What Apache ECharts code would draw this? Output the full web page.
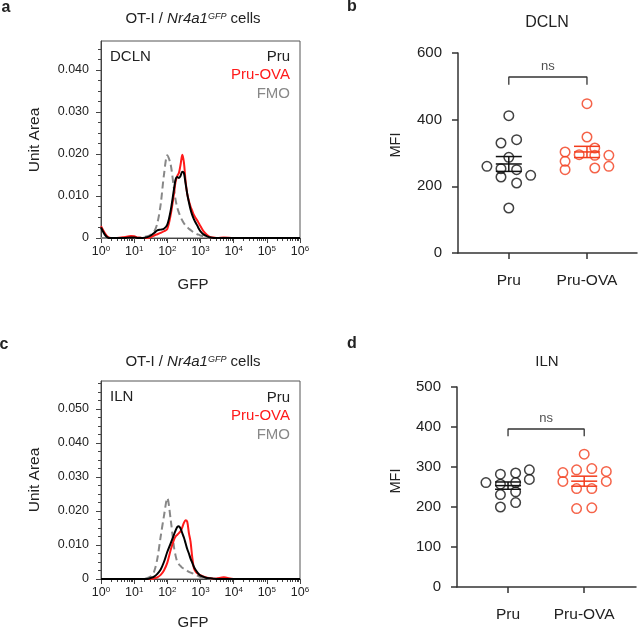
<!DOCTYPE html>
<html><head><meta charset="utf-8">
<script src="https://cdn.jsdelivr.net/npm/echarts@6/dist/echarts.min.js"></script>
<style>html,body{margin:0;padding:0;background:#fff}#c{width:638px;height:630px}</style>
</head><body><div id="c"></div>
<script>
// ---------- DATA ----------
const gfp = [1,1.3,1.6,2,3,5,8,10,13,18,25,32,40,50,63,79,100,126,158,178,200,224,251,282,316,355,398,447,501,562,631,708,794,891,1000,1259,1585,2000,2512,3162,5012,10000,100000,1000000];

const dclnFmo = [0,0,0,0,0,0,0,0,0,0.0002,0.0004,0.0008,0.0015,0.0035,0.008,0.015,0.0197,0.0175,0.0118,0.009,0.0072,0.006,0.005,0.0042,0.0035,0.003,0.0026,0.0022,0.0019,0.0016,0.0013,0.0011,0.0009,0.0008,0.0006,0.0004,0.0002,0.0001,0,0,0,0,0,0];
const dclnOva = [0.0028,0.0012,0.0003,0,0,0.0002,0.0005,0.0004,0.0001,0,0,0.0002,0.0006,0.0009,0.0012,0.0016,0.0022,0.0055,0.0105,0.0135,0.0148,0.0155,0.0175,0.0198,0.018,0.0135,0.0105,0.0088,0.0075,0.0065,0.0055,0.0048,0.0042,0.0035,0.0028,0.0015,0.0007,0.0002,0.0001,0,0.0001,0,0,0];
const dclnPru = [0.0025,0.0008,0.0001,0,0,0,0.0001,0.0001,0,0,0.0002,0.0006,0.0012,0.0018,0.002,0.0022,0.0032,0.0065,0.0115,0.014,0.0145,0.0143,0.0148,0.0158,0.0155,0.013,0.0105,0.0085,0.0068,0.0055,0.0045,0.0037,0.003,0.0022,0.0016,0.0008,0.0004,0.0001,0,0,0,0,0,0];

const ilnFmo = [0,0,0,0,0,0,0,0,0,0,0.0003,0.0008,0.0022,0.006,0.0125,0.0185,0.0238,0.0175,0.0095,0.0068,0.005,0.0043,0.0038,0.0033,0.003,0.0027,0.0024,0.0021,0.0019,0.0017,0.0015,0.0012,0.001,0.0008,0.0006,0.0003,0.0001,0,0,0,0,0,0,0];
const ilnPru = [0,0,0,0,0,0,0,0,0,0,0,0.0003,0.0007,0.0015,0.0028,0.005,0.008,0.0105,0.013,0.0143,0.0153,0.0155,0.0148,0.0135,0.0122,0.0105,0.0088,0.0075,0.006,0.0048,0.0036,0.0027,0.002,0.0014,0.001,0.0006,0.0003,0.0002,0.0001,0,0,0,0,0];
const ilnOva = [0,0,0,0,0,0,0,0,0,0,0,0,0.0002,0.0005,0.0012,0.0025,0.0048,0.0085,0.0115,0.0125,0.013,0.0135,0.014,0.0152,0.0165,0.0173,0.0168,0.0135,0.011,0.0065,0.0032,0.0022,0.0017,0.0014,0.0011,0.0007,0.0004,0.0002,0.0001,0.0002,0.0005,0,0,0];

const groups = ['Pru','Pru-OVA'];
const dclnMfiPru  = [412,330,340,287,260,253,250,228,233,210,135];
const dclnMfiPruX = [1.0,0.9,1.1,1.0,0.72,0.9,1.1,0.9,1.28,1.1,1.0];
const dclnMfiOva  = [448,348,303,315,295,293,293,275,250,255,260];
const dclnMfiOvaX = [2.0,2.0,1.72,2.1,1.9,2.1,2.28,1.72,1.72,2.1,2.28];

const ilnMfiPru  = [261,282,257,231,200,285,261,238,211,293,269];
const ilnMfiPruX = [0.71,0.9,0.9,0.9,0.9,1.1,1.1,1.1,1.1,1.28,1.28];
const ilnMfiOva  = [332,286,264,293,296,289,264,246,246,196,198];
const ilnMfiOvaX = [2.0,1.72,1.72,1.9,2.1,2.29,2.29,1.9,2.1,1.9,2.1];

const dclnBracket = [505,528];
const ilnBracket = [377,395];

const histYTicks = {a:[0,0.01,0.02,0.03,0.04], c:[0,0.01,0.02,0.03,0.04,0.05]};
// ---------- END DATA ----------

const FONT = 'Liberation Sans, Arial, sans-serif';
const TXT = '#222';
const RED = '#ff1a1a';
const DOTRED = '#f23c1c';

const logMinor = [];
for (let e=0;e<6;e++) for (let k=2;k<10;k++) logMinor.push(k*Math.pow(10,e));
function yMinor(max){ const r=[]; for (let v=0.0025; v<max; v+=0.0025){ if (Math.abs(v/0.01-Math.round(v/0.01))>0.01) r.push(+v.toFixed(4)); } return r; }

function pairs(xs, ys){ return xs.map((x,i)=>[x, ys[i]]); }
function meanSem(v){ const n=v.length; const m=v.reduce((a,b)=>a+b,0)/n; const sd=Math.sqrt(v.reduce((a,b)=>a+(b-m)*(b-m),0)/(n-1)); return [m, sd/Math.sqrt(n)]; }

function histX(gi){
  return [{
    type:'log', logBase:10, gridIndex:gi, min:1, max:1000000, position:'bottom',
    axisLine:{show:true,lineStyle:{color:'#444',width:1}},
    axisTick:{show:true,length:5,lineStyle:{color:'#444'}},
    splitLine:{show:false},
    axisLabel:{margin:7,color:TXT,fontFamily:FONT,
      formatter:v=>'{b|10}{s|'+Math.round(Math.log10(v))+'}',
      rich:{b:{fontSize:12.5,fontFamily:FONT,color:TXT},s:{fontSize:8,fontFamily:FONT,color:TXT,verticalAlign:'top'}}}
  },{
    type:'log', logBase:10, gridIndex:gi, min:1, max:1000000, position:'bottom',
    axisLine:{show:false}, splitLine:{show:false}, axisLabel:{show:false},
    axisTick:{show:true,length:3,customValues:logMinor,lineStyle:{color:'#444'}}
  }];
}
function histY(gi, max, ticks){
  return [{
    type:'value', gridIndex:gi, min:0, max:max, position:'left',
    axisLine:{show:true,lineStyle:{color:'#444',width:1}},
    axisTick:{show:true,length:5,customValues:ticks,lineStyle:{color:'#444'}},
    splitLine:{show:false},
    axisLabel:{customValues:ticks,margin:12,fontSize:12.5,color:TXT,fontFamily:FONT,formatter:v=>v===0?'0':v.toFixed(3)}
  },{
    type:'value', gridIndex:gi, min:0, max:max, position:'left',
    axisLine:{show:false}, splitLine:{show:false}, axisLabel:{show:false},
    axisTick:{show:true,length:3,customValues:yMinor(max),lineStyle:{color:'#444'}}
  }];
}
function dotX(gi,min,max){
  return {type:'value',gridIndex:gi,min:min,max:max,position:'bottom',
    axisLine:{show:true,lineStyle:{color:'#333',width:1.5}},
    axisTick:{show:true,length:6,customValues:[1,2],lineStyle:{color:'#333',width:1.5}},
    splitLine:{show:false},
    axisLabel:{customValues:[1,2],margin:20,fontSize:15.5,color:TXT,fontFamily:FONT,formatter:v=>groups[Math.round(v)-1]}};
}
function dotY(gi,max,interval){
  return {type:'value',gridIndex:gi,min:0,max:max,interval:interval,position:'left',
    axisLine:{show:true,lineStyle:{color:'#333',width:1.5}},
    axisTick:{show:true,length:6,lineStyle:{color:'#333',width:1.5}},
    splitLine:{show:false},
    axisLabel:{margin:16,fontSize:15,color:TXT,fontFamily:FONT}};
}
function histLines(xi, yi, fmo, ova, pru){
  return [
    {type:'line',xAxisIndex:xi,yAxisIndex:yi,data:pairs(gfp,fmo),smooth:0.3,showSymbol:false,lineStyle:{color:'#888',width:2,type:[7,4]},z:2},
    {type:'line',xAxisIndex:xi,yAxisIndex:yi,data:pairs(gfp,ova),smooth:0.3,showSymbol:false,lineStyle:{color:RED,width:2},z:3},
    {type:'line',xAxisIndex:xi,yAxisIndex:yi,data:pairs(gfp,pru),smooth:0.3,showSymbol:false,lineStyle:{color:'#000',width:2},z:4}
  ];
}
function dots(xi, yi, xs, ys, color){
  return {type:'scatter',xAxisIndex:xi,yAxisIndex:yi,data:pairs(xs,ys),symbol:'circle',symbolSize:9.5,
    itemStyle:{color:'rgba(255,255,255,0)',borderColor:color,borderWidth:1.5},z:3};
}
function msSeries(xi, yi, xpos, vals, color){
  const ms = meanSem(vals);
  return {type:'custom',xAxisIndex:xi,yAxisIndex:yi,data:[[xpos,ms[0],ms[1]]],encode:{x:0,y:1},z:4,
    renderItem:(p,api)=>{
      const x=api.value(0), m=api.value(1), s=api.value(2);
      const c=api.coord([x,m]), t=api.coord([x,m+s]), b=api.coord([x,m-s]);
      const hw=13, st={stroke:color,lineWidth:1.5};
      return {type:'group',children:[
        {type:'line',shape:{x1:c[0]-hw,y1:c[1],x2:c[0]+hw,y2:c[1]},style:st},
        {type:'line',shape:{x1:t[0]-hw,y1:t[1],x2:t[0]+hw,y2:t[1]},style:st},
        {type:'line',shape:{x1:b[0]-hw,y1:b[1],x2:b[0]+hw,y2:b[1]},style:st},
        {type:'line',shape:{x1:t[0],y1:t[1],x2:b[0],y2:b[1]},style:st}
      ]};
    }};
}
function bracket(xi, yi, br){
  return [
    {type:'line',xAxisIndex:xi,yAxisIndex:yi,data:[[1,br[0]],[1,br[1]],[2,br[1]],[2,br[0]]],showSymbol:false,symbol:'none',
      lineStyle:{color:'#333',width:1.3},z:2},
    {type:'scatter',xAxisIndex:xi,yAxisIndex:yi,data:[[1.5,br[1]]],symbolSize:0.01,
      label:{show:true,position:'top',distance:4,formatter:'ns',fontSize:13,color:TXT,fontFamily:FONT},z:2}
  ];
}

function t(text,x,y){ return {type:'text',style:{text:text,x:x,y:y,fill:TXT,font:'15px '+FONT,align:'center',verticalAlign:'middle'}}; }
function styled(text,x,y,extra){ const e=t(text,x,y); Object.assign(e.style,extra); return e; }
function titleRich(x,y){
  return {type:'text',style:{text:'OT-I / {i|Nr4a1}{s|GFP} cells',x:x,y:y,align:'center',verticalAlign:'middle',fill:TXT,
    fontSize:15,fontFamily:FONT,
    rich:{i:{fontStyle:'italic',fontSize:15,fontFamily:FONT,fill:TXT},s:{fontStyle:'italic',fontSize:9,fontFamily:FONT,fill:TXT,verticalAlign:'top'}}}};
}
function rot(text,x,y,size){ return {type:'text',x:x,y:y,rotation:Math.PI/2,style:{text:text,x:0,y:0,fill:TXT,font:size+'px '+FONT,align:'center',verticalAlign:'middle'}}; }

const chart = echarts.init(document.getElementById('c'),null,{renderer:'canvas'});
const option = {
  animation:false,
  backgroundColor:'#fff',
  grid:[
    {left:101,top:41,width:199,height:197,show:true,borderColor:'#555',borderWidth:1,containLabel:false},
    {left:458,top:53,width:179,height:200,containLabel:false},
    {left:101,top:381,width:199,height:198,show:true,borderColor:'#555',borderWidth:1,containLabel:false},
    {left:457,top:387,width:179,height:200,containLabel:false}
  ],
  xAxis:[].concat(histX(0),[dotX(1,0.35,2.64)],histX(2),[dotX(3,0.33,2.68)]),
  yAxis:[].concat(histY(0,0.0469,histYTicks.a),[dotY(1,600,200)],histY(2,0.0582,histYTicks.c),[dotY(3,500,100)]),
  series:[].concat(
    histLines(0,0,dclnFmo,dclnOva,dclnPru),
    histLines(3,3,ilnFmo,ilnOva,ilnPru),
    bracket(2,2,dclnBracket),
    [dots(2,2,dclnMfiPruX,dclnMfiPru,'#111'),dots(2,2,dclnMfiOvaX,dclnMfiOva,DOTRED),
     msSeries(2,2,1,dclnMfiPru,'#111'),msSeries(2,2,2,dclnMfiOva,DOTRED)],
    bracket(5,5,ilnBracket),
    [dots(5,5,ilnMfiPruX,ilnMfiPru,'#111'),dots(5,5,ilnMfiOvaX,ilnMfiOva,DOTRED),
     msSeries(5,5,1,ilnMfiPru,'#111'),msSeries(5,5,2,ilnMfiOva,DOTRED)]
  ),
  graphic:[
    styled('a',6,8,{font:'bold 16px '+FONT}),
    styled('b',352,7,{font:'bold 16px '+FONT}),
    styled('c',4,345,{font:'bold 16px '+FONT}),
    styled('d',352,344,{font:'bold 16px '+FONT}),
    titleRich(193,19), titleRich(193,362),
    styled('DCLN',110,57,{align:'left'}),
    styled('ILN',110,397,{align:'left'}),
    styled('Pru',290,57,{align:'right'}),
    styled('Pru-OVA',290,75,{align:'right',fill:RED}),
    styled('FMO',290,94,{align:'right',fill:'#888'}),
    styled('Pru',290,398,{align:'right'}),
    styled('Pru-OVA',290,416,{align:'right',fill:RED}),
    styled('FMO',290,435,{align:'right',fill:'#888'}),
    rot('Unit Area',35,140,15.5), rot('Unit Area',35,480,15.5),
    styled('GFP',193,285,{}), styled('GFP',193,623,{}),
    styled('DCLN',547,23,{font:'16px '+FONT}),
    styled('ILN',547,362,{}),
    rot('MFI',396,145,14.5), rot('MFI',396,481,14.5)
  ]
};
chart.setOption(option);
</script></body></html>
